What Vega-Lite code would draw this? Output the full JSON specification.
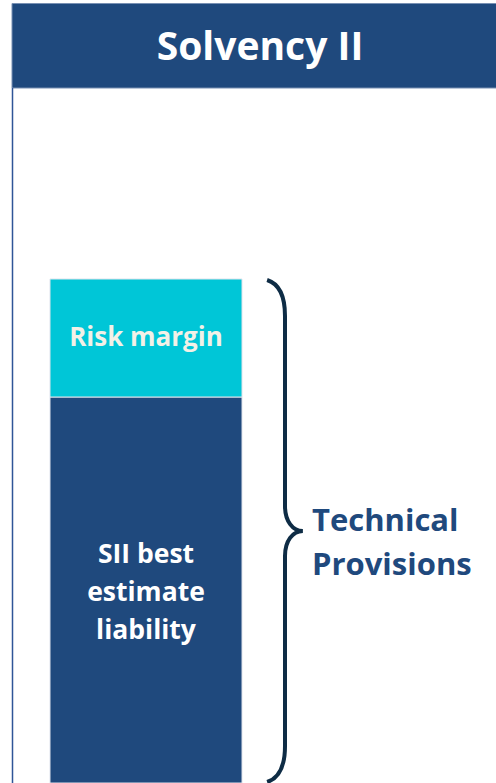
{
  "$schema": "https://vega.github.io/schema/vega-lite/v6.json",
  "width": 496,
  "height": 783,
  "autosize": "none",
  "padding": 0,
  "background": "white",
  "config": {"view": {"stroke": null}, "font": "Open Sans"},
  "datasets": {
    "components": [
      {"component": "SII best estimate liability", "label": "SII best|estimate|liability", "value": 386, "order": 1},
      {"component": "Risk margin", "label": "Risk margin", "value": 118, "order": 2}
    ],
    "headings": [{"heading": "Solvency II", "group": "Technical|Provisions"}]
  },
  "layer": [
    {
      "data": {"name": "headings"},
      "mark": {"type": "rect", "fill": "#1f497d", "stroke": "#7890b3", "strokeWidth": 1},
      "encoding": {
        "x": {"datum": 12, "type": "quantitative", "scale": {"domain": [0, 496], "nice": false, "zero": false}, "axis": null},
        "x2": {"datum": 497},
        "y": {"datum": 779.5, "type": "quantitative", "scale": {"domain": [0, 783], "nice": false, "zero": false}, "axis": null},
        "y2": {"datum": 695}
      }
    },
    {
      "data": {"name": "headings"},
      "mark": {"type": "rule", "stroke": "#2f5597", "strokeWidth": 1.5},
      "encoding": {
        "x": {"datum": 12.5, "type": "quantitative"},
        "y": {"datum": 0, "type": "quantitative"},
        "y2": {"datum": 695}
      }
    },
    {
      "data": {"name": "headings"},
      "mark": {"type": "text", "font": "Open Sans", "fontWeight": "bold", "fontSize": 39, "fill": "#ffffff", "align": "center", "baseline": "middle"},
      "encoding": {
        "x": {"datum": 260, "type": "quantitative"},
        "y": {"datum": 735, "type": "quantitative"},
        "text": {"field": "heading"}
      }
    },
    {
      "data": {"name": "components"},
      "transform": [
        {"stack": "value", "groupby": [], "sort": [{"field": "order", "order": "ascending"}], "as": ["y0", "y1"]}
      ],
      "mark": {"type": "rect", "stroke": "#dfe3ec", "strokeWidth": 1},
      "encoding": {
        "x": {"datum": 50, "type": "quantitative"},
        "x2": {"datum": 242},
        "y": {"field": "y0", "type": "quantitative"},
        "y2": {"field": "y1"},
        "color": {
          "field": "component",
          "type": "nominal",
          "scale": {"domain": ["SII best estimate liability", "Risk margin"], "range": ["#1f497d", "#00c6d7"]},
          "legend": null
        }
      }
    },
    {
      "data": {"name": "components"},
      "transform": [
        {"stack": "value", "groupby": [], "sort": [{"field": "order", "order": "ascending"}], "as": ["y0", "y1"]},
        {"filter": "datum.component == 'Risk margin'"},
        {"calculate": "(datum.y0 + datum.y1) / 2", "as": "mid"}
      ],
      "mark": {"type": "text", "font": "Open Sans", "fontWeight": "bold", "fontSize": 26, "fill": "#f3f1e7", "align": "center", "baseline": "middle"},
      "encoding": {
        "x": {"datum": 146, "type": "quantitative"},
        "y": {"field": "mid", "type": "quantitative"},
        "text": {"field": "label"}
      }
    },
    {
      "data": {"name": "components"},
      "transform": [
        {"stack": "value", "groupby": [], "sort": [{"field": "order", "order": "ascending"}], "as": ["y0", "y1"]},
        {"filter": "datum.component != 'Risk margin'"},
        {"calculate": "(datum.y0 + datum.y1) / 2", "as": "mid"},
        {"calculate": "split(datum.label, '|')", "as": "lines"}
      ],
      "mark": {"type": "text", "font": "Open Sans", "fontWeight": "bold", "fontSize": 26.5, "fill": "#ffffff", "align": "center", "baseline": "middle", "lineHeight": 38, "dy": -35},
      "encoding": {
        "x": {"datum": 146, "type": "quantitative"},
        "y": {"field": "mid", "type": "quantitative"},
        "text": {"field": "lines"}
      }
    },
    {
      "data": {"name": "components"},
      "transform": [
        {"aggregate": [{"op": "sum", "field": "value", "as": "total"}]},
        {"calculate": "datum.total / 2", "as": "mid"}
      ],
      "mark": {
        "type": "point",
        "shape": "M-0.071,-0.996 C-0.02,-0.98 0,-0.93 0,-0.853 L0,-0.099 C0,-0.04 0.03,0 0.071,0 C0.03,0 0,0.04 0,0.099 L0,0.853 C0,0.93 -0.02,0.98 -0.071,0.996",
        "filled": false,
        "stroke": "#0e2c45",
        "strokeWidth": 4,
        "opacity": 1,
        "size": 254016
      },
      "encoding": {
        "x": {"datum": 285, "type": "quantitative"},
        "y": {"field": "mid", "type": "quantitative"}
      }
    },
    {
      "data": {"name": "headings"},
      "transform": [{"calculate": "split(datum.group, '|')", "as": "lines"}],
      "mark": {"type": "text", "font": "Open Sans", "fontWeight": "bold", "fontSize": 31, "fill": "#1f497d", "align": "left", "baseline": "middle", "lineHeight": 44},
      "encoding": {
        "x": {"datum": 312, "type": "quantitative"},
        "y": {"datum": 261, "type": "quantitative"},
        "text": {"field": "lines"}
      }
    }
  ]
}
